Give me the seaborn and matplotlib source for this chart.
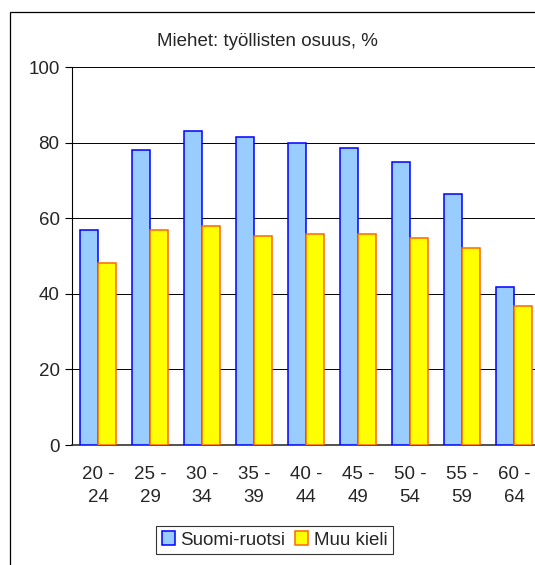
import pandas as pd
import seaborn as sns
import matplotlib.pyplot as plt
from matplotlib.patches import Rectangle, Patch

age_groups = ["20 -\n24", "25 -\n29", "30 -\n34", "35 -\n39", "40 -\n44",
              "45 -\n49", "50 -\n54", "55 -\n59", "60 -\n64"]
suomi_ruotsi = [56.8, 78.0, 83.2, 81.4, 79.8, 78.5, 75.0, 66.3, 41.9]
muu_kieli = [48.1, 56.8, 57.9, 55.2, 55.7, 55.7, 54.8, 52.1, 36.8]
series = ["Suomi-ruotsi", "Muu kieli"]

df = pd.DataFrame({
    "ika": age_groups * 2,
    "osuus": suomi_ruotsi + muu_kieli,
    "kieli": [series[0]] * len(age_groups) + [series[1]] * len(age_groups),
})

sns.set_style("white")
plt.rcParams['font.family'] = ['Liberation Sans', 'DejaVu Sans']
fs = 13.5

fig = plt.figure(figsize=(5.35, 5.65), dpi=100)
ax = fig.add_axes([72 / 535, 1 - 445 / 565, 468 / 535, (445 - 67) / 565])

fills = {"Suomi-ruotsi": "#99CCFF", "Muu kieli": "#FFFF00"}
edges = {"Suomi-ruotsi": "#0000FF", "Muu kieli": "#FF6600"}

ax.yaxis.grid(True, color="black", linewidth=0.7)
ax.set_axisbelow(True)
sns.barplot(data=df, x="ika", y="osuus", hue="kieli", palette=fills,
            saturation=1, width=0.7, gap=0, legend=False, ax=ax, zorder=3)
for cont, name in zip(ax.containers, series):
    for bar in cont:
        bar.set_edgecolor(edges[name])
        bar.set_linewidth(1.1)

ax.set_ylim(0, 100)
ax.set_yticks([0, 20, 40, 60, 80, 100])
ax.set_xlim(-0.5, 8.5)
ax.set_xlabel("")
ax.set_ylabel("")
ax.tick_params(axis="y", direction="out", length=5, width=0.8, color="black",
               labelsize=fs, pad=4, left=True)
ax.tick_params(axis="x", length=0, labelsize=fs, pad=15)
for lab in ax.get_xticklabels():
    lab.set_linespacing(1.45)
for s in ["top", "right"]:
    ax.spines[s].set_visible(False)
ax.spines["left"].set_color("black")
ax.spines["left"].set_linewidth(0.8)
ax.spines["bottom"].set_color("#333333")
ax.spines["bottom"].set_linewidth(1.2)

fig.text(267 / 535, 1 - 41 / 565, "Miehet: työllisten osuus, %",
         ha="center", va="center", fontsize=fs)

handles = [Patch(facecolor=fills[n], edgecolor=edges[n], linewidth=1.1, label=n)
           for n in series]
leg = fig.legend(handles=handles, loc="center",
                 bbox_to_anchor=(274.5 / 535, 1 - 540 / 565), ncol=2,
                 fontsize=fs, frameon=True, fancybox=False,
                 handlelength=0.7, handleheight=0.7, handletextpad=0.3,
                 columnspacing=0.5, borderpad=0.3, borderaxespad=0)
leg.get_frame().set_edgecolor("black")
leg.get_frame().set_linewidth(0.8)

fig.patches.append(Rectangle((9.5 / 535, -0.1), 1.0, 1 - 12 / 565 + 0.1,
                             transform=fig.transFigure, fill=False,
                             edgecolor="black", linewidth=0.9))

fig.savefig("out.png", dpi=100)
